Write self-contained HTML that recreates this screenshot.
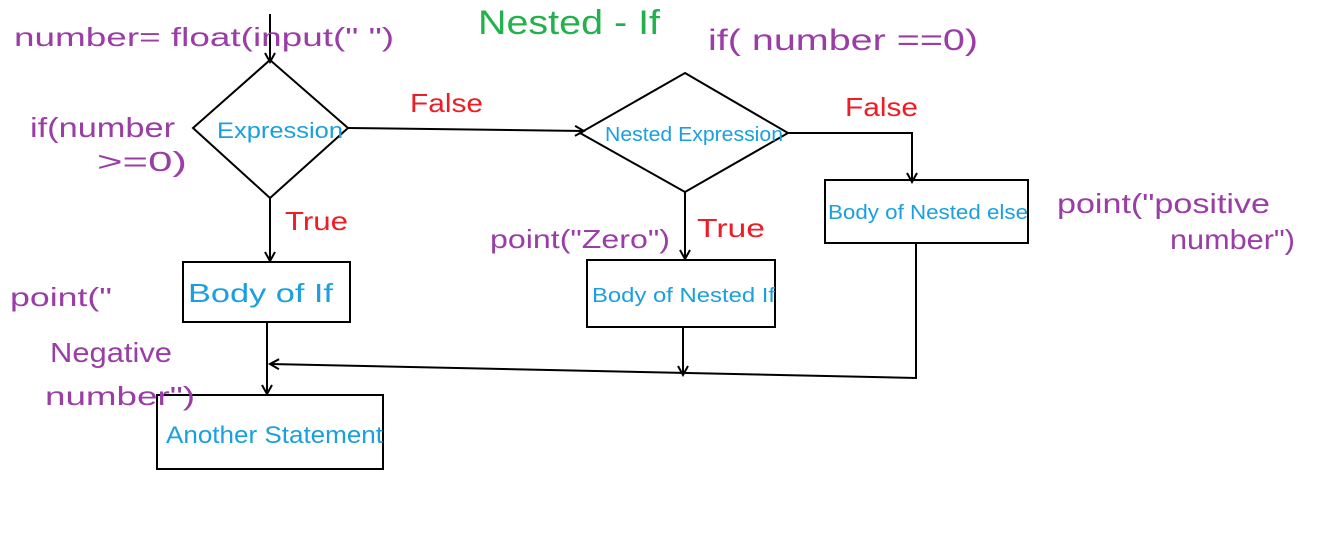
<!DOCTYPE html>
<html><head><meta charset="utf-8"><style>
html,body{margin:0;padding:0;background:#fff;width:1340px;height:551px;overflow:hidden}
svg{display:block}
text{font-family:"Liberation Sans",sans-serif}
.p{fill:#9b3da6}.b{fill:#1aa0e0}.r{fill:#ee1c24}.g{fill:#22b14c}
</style></head><body>
<svg width="1340" height="551" viewBox="0 0 1340 551" xmlns="http://www.w3.org/2000/svg">
<defs><marker id="a" markerWidth="12" markerHeight="12" refX="10" refY="6" orient="auto" markerUnits="userSpaceOnUse"><path d="M1,1 L10,6 L1,11" fill="none" stroke="#000" stroke-width="2"/></marker></defs>
<g stroke="#000" stroke-width="2" fill="none">
<line x1="270" y1="14" x2="270" y2="62" marker-end="url(#a)"/>
<polygon points="270,60 348,128 270,198 193,128"/>
<line x1="348" y1="128" x2="584" y2="131" marker-end="url(#a)"/>
<polygon points="685,73 788,133 685,192 580,133"/>
<polyline points="788,133 912,133 912,182" marker-end="url(#a)"/>
<rect x="825" y="180" width="203" height="63"/>
<line x1="270" y1="198" x2="270" y2="261" marker-end="url(#a)"/>
<rect x="183" y="262" width="167" height="60"/>
<line x1="267" y1="322" x2="267" y2="394" marker-end="url(#a)"/>
<rect x="157" y="395" width="226" height="74"/>
<line x1="685" y1="192" x2="685" y2="259" marker-end="url(#a)"/>
<rect x="587" y="260" width="188" height="67"/>
<line x1="683" y1="327" x2="683" y2="375" marker-end="url(#a)"/>
<polyline points="916,243 916,378 270,364" marker-end="url(#a)"/>
</g>
<g lengthAdjust="spacingAndGlyphs">
<text x="478" y="34" font-size="34" class="g" textLength="182" lengthAdjust="spacingAndGlyphs">Nested - If</text>
<text x="14" y="46" font-size="26" class="p" textLength="380" lengthAdjust="spacingAndGlyphs">number= float(input("  ")</text>
<text x="30" y="137" font-size="28" class="p" textLength="145" lengthAdjust="spacingAndGlyphs">if(number</text>
<text x="97" y="171" font-size="28" class="p" textLength="90" lengthAdjust="spacingAndGlyphs">&gt;=0)</text>
<text x="217" y="138" font-size="22" class="b" textLength="126" lengthAdjust="spacingAndGlyphs">Expression</text>
<text x="410" y="112" font-size="26" class="r" textLength="73" lengthAdjust="spacingAndGlyphs">False</text>
<text x="708" y="50" font-size="30" class="p" textLength="270" lengthAdjust="spacingAndGlyphs">if( number ==0)</text>
<text x="605" y="141" font-size="20" class="b" textLength="178" lengthAdjust="spacingAndGlyphs">Nested Expression</text>
<text x="845" y="116" font-size="26" class="r" textLength="73" lengthAdjust="spacingAndGlyphs">False</text>
<text x="828" y="219" font-size="20" class="b" textLength="200" lengthAdjust="spacingAndGlyphs">Body of Nested else</text>
<text x="1057" y="213" font-size="28" class="p" textLength="213" lengthAdjust="spacingAndGlyphs">point("positive</text>
<text x="1170" y="249" font-size="28" class="p" textLength="125" lengthAdjust="spacingAndGlyphs">number")</text>
<text x="285" y="230" font-size="26" class="r" textLength="63" lengthAdjust="spacingAndGlyphs">True</text>
<text x="188" y="302" font-size="26" class="b" textLength="145" lengthAdjust="spacingAndGlyphs">Body of If</text>
<text x="10" y="306" font-size="26" class="p" textLength="102" lengthAdjust="spacingAndGlyphs">point("</text>
<text x="50" y="362" font-size="28" class="p" textLength="122" lengthAdjust="spacingAndGlyphs">Negative</text>
<text x="45" y="405" font-size="26" class="p" textLength="150" lengthAdjust="spacingAndGlyphs">number")</text>
<text x="166" y="443" font-size="24" class="b" textLength="217" lengthAdjust="spacingAndGlyphs">Another Statement</text>
<text x="490" y="248" font-size="26" class="p" textLength="180" lengthAdjust="spacingAndGlyphs">point("Zero")</text>
<text x="697" y="237" font-size="26" class="r" textLength="68" lengthAdjust="spacingAndGlyphs">True</text>
<text x="592" y="302" font-size="20" class="b" textLength="183" lengthAdjust="spacingAndGlyphs">Body of Nested If</text>
</g>
</svg>
</body></html>
